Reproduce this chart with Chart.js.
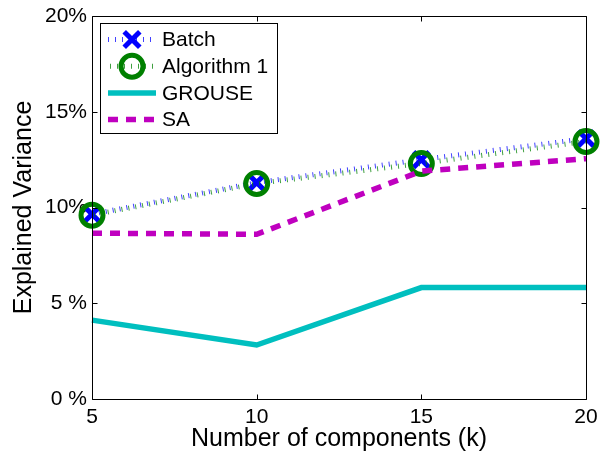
<!DOCTYPE html>
<html>
<head>
<meta charset="utf-8">
<script src="https://cdn.jsdelivr.net/npm/chart.js@4.4.1/dist/chart.umd.min.js"></script>
<style>
  html, body { margin: 0; padding: 0; background: #fff; }
  #wrap { width: 610px; height: 454px; }
</style>
</head>
<body>
<div id="wrap"><canvas id="grafico" width="610" height="454"></canvas></div>
<script>
// ---- datos (varianza explicada, %) ----
const componentes = [5, 10, 15, 20];
const batch       = [9.65, 11.3, 12.5, 13.6];
const algoritmo1  = [9.6, 11.25, 12.3, 13.45];
const grouse      = [4.12, 2.82, 5.82, 5.82];
const sa          = [8.66, 8.6, 11.9, 12.55];
const yTickLabels = ['0 %', '5 %', '10%', '15%', '20%'];
const nombres     = ['Batch', 'Algorithm 1', 'GROUSE', 'SA'];

const FUENTE = '"Liberation Sans", Arial, Helvetica, sans-serif';
Chart.defaults.font.family = FUENTE;
Chart.defaults.color = '#000';

// marco negro con marcas hacia dentro (estilo MATLAB)
const marcoPlugin = {
  id: 'marco',
  afterDatasetsDraw(chart) {
    const ctx = chart.ctx;
    const a = chart.chartArea;
    const xs = chart.scales.x, ys = chart.scales.y;
    const L = Math.round(a.left) + 0.5, R = Math.round(a.right) + 0.5;
    const T = Math.round(a.top) + 0.5, B = Math.round(a.bottom) + 0.5;
    ctx.save();
    ctx.strokeStyle = '#000';
    ctx.lineWidth = 1;
    ctx.beginPath();
    ctx.rect(L, T, R - L, B - T);
    xs.ticks.forEach((t, i) => {
      const px = Math.round(xs.getPixelForTick(i)) + 0.5;
      ctx.moveTo(px, B); ctx.lineTo(px, B - 5);
      ctx.moveTo(px, T); ctx.lineTo(px, T + 5);
    });
    ys.ticks.forEach((t) => {
      const py = Math.round(ys.getPixelForValue(t.value)) + 0.5;
      ctx.moveTo(L, py); ctx.lineTo(L + 5, py);
      ctx.moveTo(R, py); ctx.lineTo(R - 5, py);
    });
    ctx.stroke();
    ctx.restore();
  }
};

// leyenda dentro del area del grafico, arriba a la izquierda
const leyendaPlugin = {
  id: 'leyenda',
  afterDraw(chart) {
    const ctx = chart.ctx;
    const a = chart.chartArea;
    const x0 = Math.round(a.left) + 8, y0 = Math.round(a.top) + 7;
    const w = 177, h = 110;
    ctx.save();
    ctx.fillStyle = '#fff';
    ctx.fillRect(x0, y0, w, h);
    ctx.strokeStyle = '#000';
    ctx.lineWidth = 1;
    ctx.strokeRect(x0 + 0.5, y0 + 0.5, w, h);

    chart.data.datasets.forEach((ds, i) => {
      const cy = y0 + 16.5 + i * 26.7;
      const lx1 = x0 + 8, lx2 = x0 + 56, cx = x0 + 32;
      ctx.save();
      ctx.strokeStyle = ds.borderColor;
      ctx.lineWidth = ds.borderWidth;
      ctx.setLineDash(ds.borderDash || []);
      ctx.lineDashOffset = ds.borderDashOffset || 0;
      ctx.beginPath();
      ctx.moveTo(lx1, cy);
      ctx.lineTo(lx2, cy);
      ctx.stroke();
      ctx.setLineDash([]);
      if (ds.pointRadius > 0) {
        const r = ds.pointRadius;
        ctx.strokeStyle = ds.pointBorderColor;
        ctx.lineWidth = ds.pointBorderWidth;
        ctx.beginPath();
        if (ds.pointStyle === 'crossRot') {
          const d = r * Math.SQRT1_2;
          ctx.moveTo(cx - d, cy - d); ctx.lineTo(cx + d, cy + d);
          ctx.moveTo(cx + d, cy - d); ctx.lineTo(cx - d, cy + d);
        } else {
          ctx.arc(cx, cy, r, 0, Math.PI * 2);
        }
        ctx.stroke();
      }
      ctx.restore();
      ctx.fillStyle = '#000';
      ctx.font = '21px ' + FUENTE;
      ctx.textBaseline = 'middle';
      ctx.textAlign = 'left';
      ctx.fillText(nombres[i], x0 + 62, cy + 1);
    });
    ctx.restore();
  }
};

const grafico = new Chart(document.getElementById('grafico'), {
  type: 'line',
  data: {
    labels: componentes,
    datasets: [
      {
        label: nombres[0],
        data: batch,
        borderColor: 'rgba(0, 0, 255, 0.75)',
        borderWidth: 5,
        borderDash: [1, 6],
        pointStyle: 'crossRot',
        pointRadius: 11,
        pointBorderWidth: 5,
        pointBorderColor: '#0000ff',
        pointBackgroundColor: '#0000ff',
        order: 4
      },
      {
        label: nombres[1],
        data: algoritmo1,
        borderColor: 'rgba(0, 128, 0, 0.75)',
        borderWidth: 5,
        borderDash: [1, 6],
        borderDashOffset: -2,
        pointStyle: 'circle',
        pointRadius: 11,
        pointBorderWidth: 5,
        pointBorderColor: '#008000',
        pointBackgroundColor: 'rgba(0,0,0,0)',
        order: 3
      },
      {
        label: nombres[2],
        data: grouse,
        borderColor: '#00bfbf',
        borderWidth: 5.5,
        pointRadius: 0,
        order: 2
      },
      {
        label: nombres[3],
        data: sa,
        borderColor: '#bf00bf',
        borderWidth: 5.5,
        borderDash: [10, 8],
        pointRadius: 0,
        order: 1
      }
    ]
  },
  options: {
    responsive: false,
    animation: false,
    devicePixelRatio: 1,
    clip: false,
    layout: { padding: { left: 0, top: 12, right: 24, bottom: 0 } },
    elements: { line: { tension: 0, fill: false } },
    plugins: {
      legend: { display: false },
      tooltip: { enabled: false }
    },
    scales: {
      x: {
        type: 'category',
        offset: false,
        grid: { display: false, drawTicks: false },
        border: { display: false },
        ticks: { padding: 6, font: { size: 21, lineHeight: 1.2 }, maxRotation: 0 },
        title: {
          display: true,
          text: 'Number of components (k)',
          font: { size: 25, lineHeight: 1.2 },
          padding: { top: 0, bottom: 0 }
        },
        afterFit: (s) => { s.height = 55; }
      },
      y: {
        min: 0,
        max: 20,
        grid: { display: false, drawTicks: false },
        border: { display: false },
        ticks: {
          stepSize: 5,
          padding: 5,
          font: { size: 21, lineHeight: 1.0 },
          callback: (v, i) => yTickLabels[i]
        },
        title: {
          display: true,
          text: 'Explained Variance',
          font: { size: 25, lineHeight: 1.2 },
          padding: { top: 9, bottom: 0 }
        },
        afterFit: (s) => { s.width = 92; }
      }
    }
  },
  plugins: [marcoPlugin, leyendaPlugin]
});
</script>
</body>
</html>
